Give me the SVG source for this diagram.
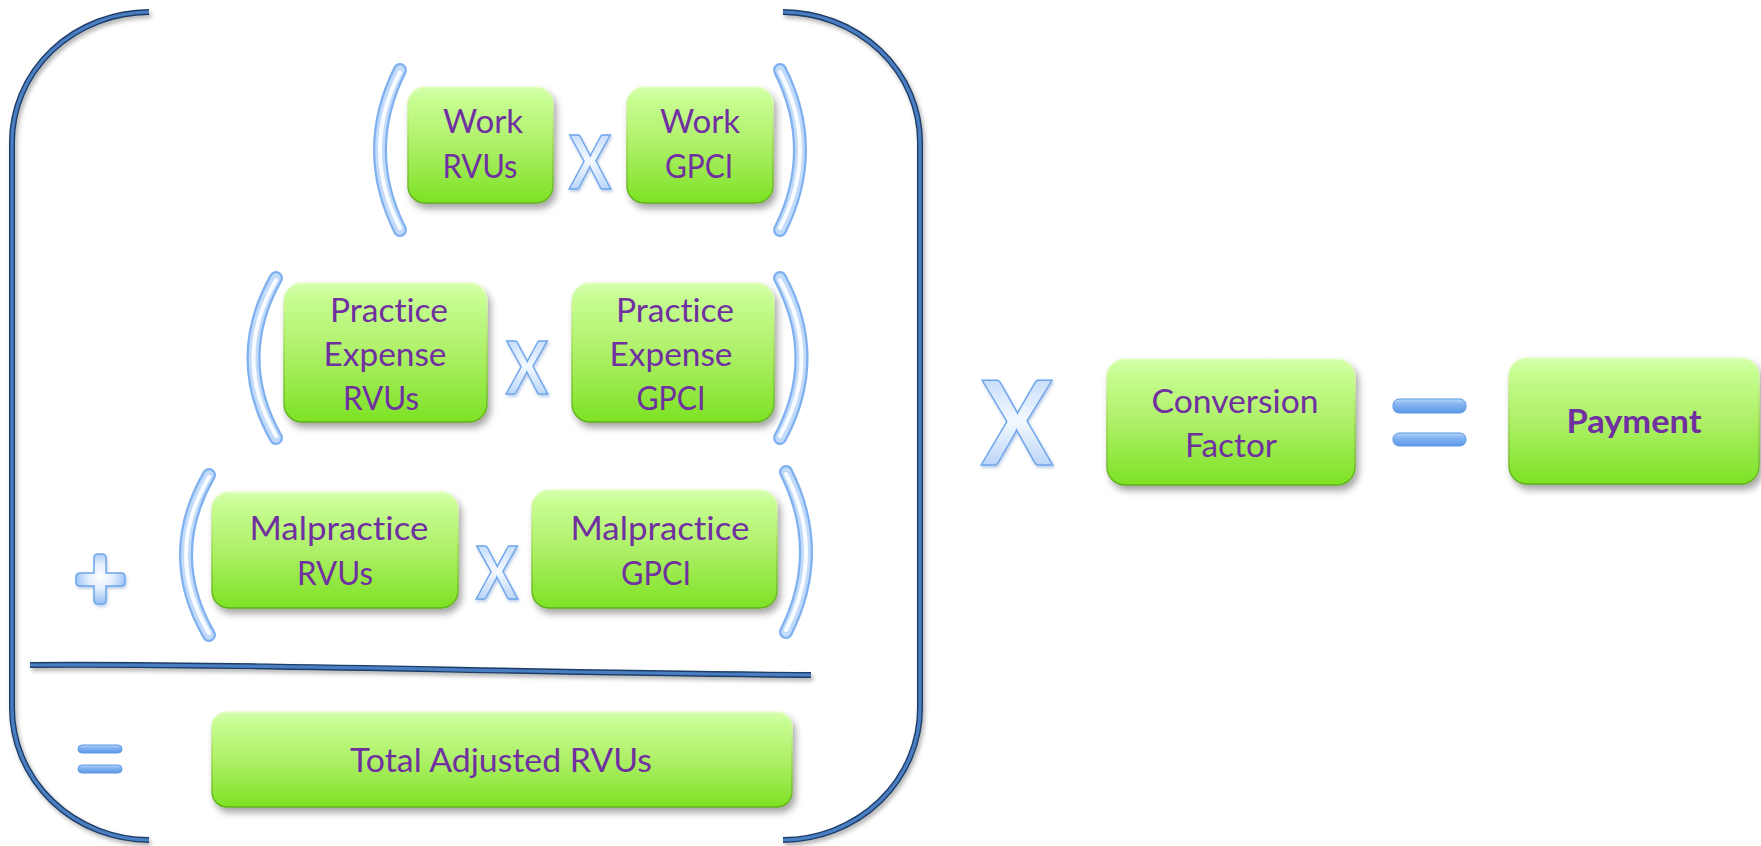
<svg xmlns="http://www.w3.org/2000/svg" width="1761" height="846" viewBox="0 0 1761 846">
  <defs>
    <linearGradient id="boxFill" x1="0" y1="0" x2="0" y2="1">
      <stop offset="0" stop-color="#d6ffae"/>
      <stop offset="0.12" stop-color="#c6fd90"/>
      <stop offset="0.5" stop-color="#aef068"/>
      <stop offset="1" stop-color="#7de224"/>
    </linearGradient>
    <linearGradient id="boxEdge" x1="0" y1="0" x2="0" y2="1">
      <stop offset="0" stop-color="#e8ffc8"/>
      <stop offset="0.5" stop-color="#9ad84e"/>
      <stop offset="1" stop-color="#5fae1c"/>
    </linearGradient>
    <linearGradient id="glyphFill" x1="0" y1="0" x2="0" y2="1">
      <stop offset="0" stop-color="#a9cbf7"/>
      <stop offset="0.5" stop-color="#f4f9ff"/>
      <stop offset="1" stop-color="#9cc3f5"/>
    </linearGradient>
    <radialGradient id="plusFill" cx="0.5" cy="0.45" r="0.6">
      <stop offset="0" stop-color="#ffffff"/>
      <stop offset="0.4" stop-color="#e6f0fd"/>
      <stop offset="1" stop-color="#86b7f2"/>
    </radialGradient>
    <linearGradient id="barFill" x1="0" y1="0" x2="0" y2="1">
      <stop offset="0" stop-color="#b8d6fa"/>
      <stop offset="0.35" stop-color="#86b6f2"/>
      <stop offset="1" stop-color="#5b97e6"/>
    </linearGradient>
    <filter id="shadow" x="-10%" y="-10%" width="125%" height="130%">
      <feDropShadow dx="3" dy="5" stdDeviation="3.5" flood-color="#000" flood-opacity="0.35"/>
    </filter>
    <filter id="lineShadow" x="-5%" y="-5%" width="110%" height="110%">
      <feDropShadow dx="2" dy="3" stdDeviation="2" flood-color="#000" flood-opacity="0.3"/>
    </filter>
    <filter id="softShadow" x="-20%" y="-20%" width="140%" height="140%">
      <feDropShadow dx="1" dy="2" stdDeviation="1.5" flood-color="#3a6fb8" flood-opacity="0.35"/>
    </filter>
  </defs>
  <style>
    .box { fill: url(#boxFill); stroke: url(#boxEdge); stroke-width: 1.5; filter: url(#shadow); }
    .lbl { font-family: Lato, "Open Sans", "Liberation Sans", sans-serif; font-size: 33px; fill: #7030a0; text-anchor: middle; font-variant-ligatures: none; font-feature-settings: "liga" 0, "clig" 0; }
    .bold { font-weight: bold; }
    .op { font-family: Lato, "Liberation Sans", sans-serif; font-weight: bold; fill: url(#glyphFill); stroke: #6ea6ec; stroke-width: 1.5; text-anchor: middle; filter: url(#softShadow); }
    .paren-out { fill: none; stroke: #7fb1f0; stroke-width: 14; stroke-linecap: round; }
    .paren-mid { fill: none; stroke: #c2dbfa; stroke-width: 9.5; stroke-linecap: round; }
    .paren-in { fill: none; stroke: #ffffff; stroke-width: 4; stroke-linecap: round; opacity: 0.9; }
    .brace-dark { fill: none; stroke: #1f3d66; stroke-width: 6; stroke-linecap: butt; }
    .brace-light { fill: none; stroke: #4a7fc2; stroke-width: 3.2; stroke-linecap: butt; }
    .bar { fill: url(#barFill); stroke: #5d97e4; stroke-width: 1; }
  </style>

  <!-- outer bracket and the sum rule -->
  <g id="connectors">
    <g filter="url(#lineShadow)">
      <path class="brace-dark" d="M149,12 A138,130 0 0 0 12,142 L12,708 A138,132 0 0 0 149,840"/>
      <path class="brace-light" d="M149,12 A138,130 0 0 0 12,142 L12,708 A138,132 0 0 0 149,840"/>
      <path class="brace-dark" d="M783,12 A138,130 0 0 1 920,142 L920,708 A138,132 0 0 1 783,840"/>
      <path class="brace-light" d="M783,12 A138,130 0 0 1 920,142 L920,708 A138,132 0 0 1 783,840"/>
      <path class="brace-dark" d="M30,665 C250,663 520,673 811,675"/>
      <path class="brace-light" d="M30,665 C250,663 520,673 811,675"/>
    </g>
  </g>

  <!-- parentheses -->
  <g id="parens">
    <path class="paren-out" d="M400,70 Q360,150 400,230"/>
    <path class="paren-mid" d="M400,70 Q360,150 400,230"/>
    <path class="paren-in" d="M400,72 Q360,150 400,228"/>
    <path class="paren-out" d="M780,70 Q820,150 780,230"/>
    <path class="paren-mid" d="M780,70 Q820,150 780,230"/>
    <path class="paren-in" d="M780,72 Q820,150 780,228"/>

    <path class="paren-out" d="M276,278 Q231,358 276,438"/>
    <path class="paren-mid" d="M276,278 Q231,358 276,438"/>
    <path class="paren-in" d="M276,280 Q231,358 276,436"/>
    <path class="paren-out" d="M780,278 Q823,358 780,438"/>
    <path class="paren-mid" d="M780,278 Q823,358 780,438"/>
    <path class="paren-in" d="M780,280 Q823,358 780,436"/>

    <path class="paren-out" d="M209,475 Q163,555 209,635"/>
    <path class="paren-mid" d="M209,475 Q163,555 209,635"/>
    <path class="paren-in" d="M209,477 Q163,555 209,633"/>
    <path class="paren-out" d="M786,472 Q826,552 786,632"/>
    <path class="paren-mid" d="M786,472 Q826,552 786,632"/>
    <path class="paren-in" d="M786,474 Q826,552 786,630"/>
  </g>

  <!-- operators -->
  <g id="operators">
    <text class="op" x="590" y="189" font-size="74" textLength="42" lengthAdjust="spacingAndGlyphs">X</text>
    <text class="op" x="527" y="394" font-size="72" textLength="42" lengthAdjust="spacingAndGlyphs">X</text>
    <text class="op" x="497" y="599" font-size="72" textLength="42" lengthAdjust="spacingAndGlyphs">X</text>
    <text class="op" x="1017" y="465" font-size="116" textLength="72" lengthAdjust="spacingAndGlyphs">X</text>
    <path d="M94,558 Q94,554 98,554 L102,554 Q106,554 106,558 L106,573 L121,573 Q125,573 125,577 L125,582 Q125,586 121,586 L106,586 L106,600 Q106,604 102,604 L98,604 Q94,604 94,600 L94,586 L80,586 Q76,586 76,582 L76,577 Q76,573 80,573 L94,573 Z" fill="url(#plusFill)" stroke="#6ea6ec" stroke-width="1.5" filter="url(#softShadow)"/>
    <rect class="bar" x="78" y="745" width="44" height="8" rx="4"/>
    <rect class="bar" x="78" y="765" width="44" height="8" rx="4"/>
    <rect class="bar" x="1393" y="399" width="73" height="14" rx="6"/>
    <rect class="bar" x="1393" y="433" width="73" height="13" rx="6"/>
  </g>

  <g id="work-rvus">
    <rect class="box" x="408" y="87" width="145" height="116" rx="17"/>
    <text class="lbl" x="483" y="133" textLength="80" lengthAdjust="spacingAndGlyphs">Work</text>
    <text class="lbl" x="480" y="178" textLength="75" lengthAdjust="spacingAndGlyphs">RVUs</text>
  </g>
  <g id="work-gpci">
    <rect class="box" x="627" y="87" width="146" height="116" rx="17"/>
    <text class="lbl" x="700" y="133" textLength="80" lengthAdjust="spacingAndGlyphs">Work</text>
    <text class="lbl" x="699" y="178" textLength="68" lengthAdjust="spacingAndGlyphs">GPCI</text>
  </g>

  <g id="pe-rvus">
    <rect class="box" x="284" y="283" width="203" height="139" rx="18"/>
    <text class="lbl" x="389" y="322" textLength="118" lengthAdjust="spacingAndGlyphs">Practice</text>
    <text class="lbl" x="385" y="366" textLength="123" lengthAdjust="spacingAndGlyphs">Expense</text>
    <text class="lbl" x="381" y="410" textLength="76" lengthAdjust="spacingAndGlyphs">RVUs</text>
  </g>
  <g id="pe-gpci">
    <rect class="box" x="572" y="283" width="202" height="139" rx="18"/>
    <text class="lbl" x="675" y="322" textLength="118" lengthAdjust="spacingAndGlyphs">Practice</text>
    <text class="lbl" x="671" y="366" textLength="123" lengthAdjust="spacingAndGlyphs">Expense</text>
    <text class="lbl" x="671" y="410" textLength="69" lengthAdjust="spacingAndGlyphs">GPCI</text>
  </g>

  <g id="mp-rvus">
    <rect class="box" x="212" y="492" width="246" height="116" rx="17"/>
    <text class="lbl" x="339" y="540" textLength="179" lengthAdjust="spacingAndGlyphs">Malpractice</text>
    <text class="lbl" x="335" y="585" textLength="76" lengthAdjust="spacingAndGlyphs">RVUs</text>
  </g>
  <g id="mp-gpci">
    <rect class="box" x="532" y="490" width="245" height="118" rx="17"/>
    <text class="lbl" x="660" y="540" textLength="179" lengthAdjust="spacingAndGlyphs">Malpractice</text>
    <text class="lbl" x="656" y="585" textLength="70" lengthAdjust="spacingAndGlyphs">GPCI</text>
  </g>

  <g id="total-adjusted-rvus">
    <rect class="box" x="212" y="712" width="580" height="95" rx="15"/>
    <text class="lbl" x="501" y="772" textLength="302" lengthAdjust="spacingAndGlyphs">Total Adjusted RVUs</text>
  </g>

  <g id="conversion-factor">
    <rect class="box" x="1107" y="359" width="248" height="126" rx="18"/>
    <text class="lbl" x="1235" y="413" textLength="167" lengthAdjust="spacingAndGlyphs">Conversion</text>
    <text class="lbl" x="1231" y="457" textLength="92" lengthAdjust="spacingAndGlyphs">Factor</text>
  </g>

  <g id="payment">
    <rect class="box" x="1509" y="358" width="250" height="126" rx="18"/>
    <text class="lbl bold" x="1634" y="433" textLength="135" lengthAdjust="spacingAndGlyphs">Payment</text>
  </g>
</svg>
